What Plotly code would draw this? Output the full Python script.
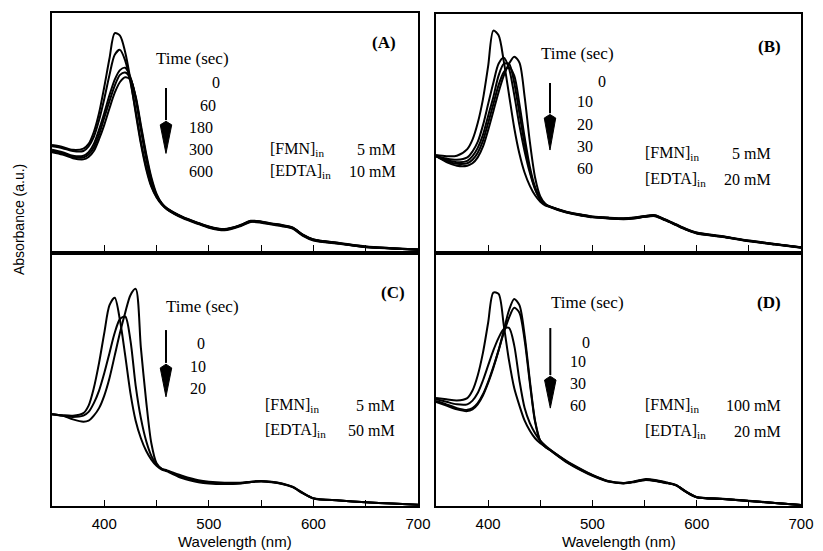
import plotly.graph_objects as go

# ---------------- data (absorbance in a.u.) ----------------
WAVELENGTH = [350, 360, 370, 380, 385, 390, 395, 400, 405, 410, 415, 420, 425, 430, 435,
              440, 445, 450, 455, 460, 475, 490, 500, 515, 530, 540, 550, 560, 570, 580,
              590, 600, 625, 650, 675, 700]

# Panel A : [FMN]in 5 mM, [EDTA]in 10 mM
A_TIMES = ["0", "60", "180", "300", "600"]
A_ABS = {
    "0":   [.445, .437, .425, .43, .45, .50, .58, .69, .81, .915, .905, .835, .72, .58, .45, .345, .27, .225, .195,
            .175, .138, .113, .098, .087, .104, .122, .119, .111, .104, .094, .064, .044, .03, .016, .01, .005],
    "60":  [.44, .432, .42, .42, .44, .48, .55, .64, .74, .825, .845, .80, .71, .59, .46, .355, .275, .228, .197,
            .176, .14, .115, .10, .089, .106, .124, .121, .113, .106, .096, .066, .046, .031, .017, .011, .005],
    "180": [.425, .415, .40, .40, .415, .45, .51, .58, .655, .72, .76, .77, .73, .64, .51, .39, .29, .232, .198,
            .177, .141, .116, .101, .09, .107, .125, .122, .114, .107, .097, .067, .047, .032, .018, .011, .006],
    "300": [.42, .41, .395, .393, .405, .435, .49, .56, .63, .695, .74, .75, .725, .645, .52, .40, .30, .235, .20,
            .178, .142, .117, .102, .091, .108, .126, .123, .115, .108, .098, .068, .048, .033, .018, .012, .006],
    "600": [.415, .405, .39, .385, .395, .42, .47, .53, .60, .665, .71, .73, .72, .65, .53, .41, .31, .24, .20,
            .179, .143, .118, .103, .092, .109, .127, .124, .116, .109, .099, .069, .049, .034, .019, .012, .006],
}

# Panel B : [FMN]in 5 mM, [EDTA]in 20 mM
B_TIMES = ["0", "10", "20", "30", "60"]
B_ABS = {
    "0":  [.405, .40, .402, .43, .47, .54, .64, .78, .93, .91, .80, .66, .52, .41, .33, .275, .235, .208, .192,
           .185, .163, .15, .143, .138, .135, .138, .145, .148, .13, .11, .09, .075, .06, .042, .028, .015],
    "10": [.40, .39, .385, .395, .42, .46, .53, .62, .71, .79, .815, .77, .66, .53, .42, .33, .26, .217, .195,
           .186, .165, .152, .145, .14, .137, .14, .147, .15, .132, .112, .092, .077, .061, .043, .029, .016],
    "20": [.40, .385, .375, .38, .40, .435, .49, .57, .65, .74, .79, .79, .71, .58, .45, .34, .265, .218, .196,
           .184, .162, .149, .142, .137, .134, .137, .144, .147, .129, .109, .089, .074, .059, .041, .027, .014],
    "30": [.40, .38, .368, .37, .385, .415, .465, .54, .62, .70, .755, .775, .74, .62, .48, .355, .27, .22, .197,
           .187, .166, .153, .146, .141, .138, .141, .148, .151, .133, .113, .093, .078, .062, .044, .03, .016],
    "60": [.40, .375, .36, .36, .37, .395, .44, .51, .59, .67, .74, .79, .82, .795, .65, .46, .31, .23, .198,
           .186, .164, .151, .144, .139, .136, .139, .146, .149, .131, .111, .091, .076, .06, .042, .028, .015],
}

# Panel C : [FMN]in 5 mM, [EDTA]in 50 mM
C_TIMES = ["0", "10", "20"]
C_ABS = {
    "0":  [.366, .362, .36, .37, .40, .47, .57, .69, .80, .83, .74, .60, .45, .34, .27, .22, .185, .16, .145,
           .138, .11, .095, .09, .088, .09, .095, .098, .095, .088, .075, .05, .03, .022, .015, .01, .005],
    "10": [.366, .36, .345, .336, .34, .36, .39, .44, .51, .60, .69, .77, .84, .865, .63, .42, .25, .17, .148,
           .142, .12, .103, .097, .093, .093, .097, .1, .097, .09, .077, .052, .031, .022, .015, .01, .005],
    "20": [.366, .36, .355, .36, .375, .41, .46, .53, .61, .69, .745, .755, .66, .48, .35, .26, .20, .165, .148,
           .14, .115, .1, .094, .09, .091, .096, .099, .096, .089, .076, .051, .03, .022, .015, .01, .005],
}

# Panel D : [FMN]in 100 mM, [EDTA]in 20 mM
D_TIMES = ["0", "10", "30", "60"]
D_ABS = {
    "0":  [.43, .425, .42, .43, .46, .52, .61, .73, .85, .845, .72, .58, .47, .40, .34, .30, .27, .25, .235,
           .22, .175, .14, .12, .097, .09, .095, .103, .10, .092, .082, .055, .035, .028, .02, .012, .004],
    "10": [.415, .40, .385, .378, .385, .405, .44, .49, .55, .62, .70, .78, .825, .80, .68, .50, .34, .26, .235,
           .222, .178, .143, .123, .099, .092, .098, .107, .104, .095, .084, .057, .036, .029, .021, .012, .004],
    "30": [.418, .405, .39, .383, .39, .41, .445, .495, .555, .62, .69, .75, .79, .77, .66, .49, .335, .258, .235,
           .221, .177, .142, .122, .098, .091, .097, .105, .102, .094, .083, .056, .035, .028, .02, .012, .004],
    "60": [.425, .415, .405, .405, .42, .45, .50, .56, .62, .67, .705, .71, .64, .50, .39, .33, .29, .26, .24,
           .223, .18, .145, .124, .1, .092, .097, .104, .101, .093, .083, .056, .035, .028, .02, .012, .004],
}

CONDITIONS = {
    "A": ("5 mM", "10 mM"),
    "B": ("5 mM", "20 mM"),
    "C": ("5 mM", "50 mM"),
    "D": ("100 mM", "20 mM"),
}

X_MAJOR_TICKS = [400, 500, 600, 700]
X_MINOR_TICKS = [450, 550, 650]

# ---------------- figure ----------------
W, H = 823, 551
OFF = 8  # page body margin of the browser
SERIF = "Liberation Serif"
SANS = "Liberation Sans"

def px_dom_x(a, b):
    return [(a - OFF) / W, (b - OFF) / W]

def px_dom_y(top, bottom):
    return [(H - (bottom - OFF)) / H, (H - (top - OFF)) / H]

panels = [
    ("A", A_TIMES, A_ABS, "x", "y", px_dom_x(52, 418), px_dom_y(13, 251)),
    ("B", B_TIMES, B_ABS, "x2", "y2", px_dom_x(436, 801), px_dom_y(14, 251)),
    ("C", C_TIMES, C_ABS, "x3", "y3", px_dom_x(52, 418), px_dom_y(255, 506)),
    ("D", D_TIMES, D_ABS, "x4", "y4", px_dom_x(436, 801), px_dom_y(255, 506)),
]

# text layout per panel (x in nm, y in a.u.)
TEXT_POS = {
    "A": ((681, 0.874), (484, 0.81), [512.3, 508.7, 505.9, 505.9, 505.9], [0.71, 0.61, 0.52, 0.425, 0.335], 557, 681, (0.425, 0.335)),
    "B": ((683, 0.861), (486, 0.835), [514.9, 502.5, 502.5, 502.5, 502.5], [0.717, 0.629, 0.532, 0.439, 0.35], 548.5, 673, (0.41, 0.30)),
    "C": ((689, 0.849), (494, 0.793), [498, 499.5, 499.5], [0.649, 0.554, 0.47], 551.8, 680, (0.402, 0.30)),
    "D": ((683, 0.809), (495, 0.809), [499.3, 496, 496, 496], [0.653, 0.574, 0.49, 0.402], 548.5, 683, (0.402, 0.295)),
}
ARROWS = {
    "A": (459, 0.685, 0.53, 0.41),
    "B": (459.3, 0.709, 0.561, 0.426),
    "C": (459, 0.701, 0.55, 0.435),
    "D": (459.6, 0.709, 0.502, 0.39),
}

fig = go.Figure()
annotations = []
shapes = []
layout_axes = {}

for idx, (name, times, data, xa, ya, xd, yd) in enumerate(panels):
    for t in times:
        fig.add_trace(go.Scatter(
            x=WAVELENGTH, y=data[t], mode="lines", xaxis=xa, yaxis=ya,
            line=dict(color="black", width=2.0, shape="spline", smoothing=0.8),
            showlegend=False, hoverinfo="skip", name=f"{name} {t} s"))

    bottom = name in ("C", "D")
    xkey = "xaxis" if xa == "x" else "xaxis" + xa[1:]
    ykey = "yaxis" if ya == "y" else "yaxis" + ya[1:]
    layout_axes[xkey] = dict(
        domain=xd, range=[350, 700], anchor=ya,
        showline=True, mirror=True, linecolor="black", linewidth=1.8,
        ticks="inside", ticklen=6, tickwidth=1.3, tickcolor="black",
        tickmode="array", tickvals=X_MAJOR_TICKS,
        minor=dict(tickmode="array", tickvals=X_MINOR_TICKS, ticks="inside",
                   ticklen=6, tickwidth=1.3, tickcolor="black", showgrid=False),
        showticklabels=bottom, showgrid=False, zeroline=False,
        tickfont=dict(family=SANS, size=15, color="black"),
        ticklabelstandoff=3,
        automargin=False,
    )
    layout_axes[ykey] = dict(
        domain=yd, range=[0, 1], anchor=xa,
        showline=True, mirror=True, linecolor="black", linewidth=1.8,
        ticks="", showticklabels=False, showgrid=False, zeroline=False,
        automargin=False,
    )

    if bottom:
        annotations.append(dict(x=0.5, y=(H - (541 - OFF)) / H, xref=xa + " domain", yref="paper",
                                text="Wavelength (nm)", showarrow=False,
                                xanchor="center", yanchor="middle",
                                font=dict(family=SANS, size=15, color="black")))

    (lx, ly), (tx, ty), num_x, num_y, cl, cr, (fy, ey) = TEXT_POS[name]
    annotations.append(dict(x=lx, y=ly, xref=xa, yref=ya, text=f"<b>({name})</b>",
                            showarrow=False, xanchor="right", yanchor="middle",
                            font=dict(family=SERIF, size=17, color="black")))
    annotations.append(dict(x=tx, y=ty, xref=xa, yref=ya, text="Time (sec)",
                            showarrow=False, xanchor="center", yanchor="middle",
                            font=dict(family=SERIF, size=17, color="black")))
    for t, nx, ny in zip(times, num_x, num_y):
        annotations.append(dict(x=nx, y=ny, xref=xa, yref=ya, text=t,
                                showarrow=False, xanchor="right", yanchor="middle",
                                font=dict(family=SERIF, size=16, color="black")))
    fmn, edta = CONDITIONS[name]
    for lab, val, yy in (("[FMN]", fmn, fy), ("[EDTA]", edta, ey)):
        annotations.append(dict(x=cl, y=yy, xref=xa, yref=ya, text=f"{lab}<sub>in</sub>",
                                showarrow=False, xanchor="left", yanchor="middle",
                                font=dict(family=SERIF, size=16, color="black")))
        annotations.append(dict(x=cr, y=yy, xref=xa, yref=ya, text=val,
                                showarrow=False, xanchor="right", yanchor="middle",
                                font=dict(family=SERIF, size=16, color="black")))

    ax_x, top, head, tip = ARROWS[name]
    shapes.append(dict(type="line", xref=xa, yref=ya, x0=ax_x, x1=ax_x, y0=top, y1=head + 0.02,
                       line=dict(color="black", width=2)))
    hw = 5.5
    shapes.append(dict(type="path", xref=xa, yref=ya,
                       path=f"M {ax_x - hw},{head} L {ax_x},{tip} L {ax_x + hw},{head} L {ax_x},{head + 0.015} Z",
                       fillcolor="black", line=dict(color="black", width=1)))

annotations.append(dict(x=(19 - OFF) / W, y=(H - (220 - OFF)) / H, xref="paper", yref="paper",
                        text="Absorbance (a.u.)", textangle=-90, showarrow=False,
                        xanchor="center", yanchor="middle",
                        font=dict(family=SANS, size=14, color="black")))

fig.update_layout(
    width=W, height=H,
    margin=dict(l=0, r=0, t=0, b=0),
    paper_bgcolor="white", plot_bgcolor="white",
    annotations=annotations, shapes=shapes,
    **layout_axes,
)

fig.write_html("out.html")
